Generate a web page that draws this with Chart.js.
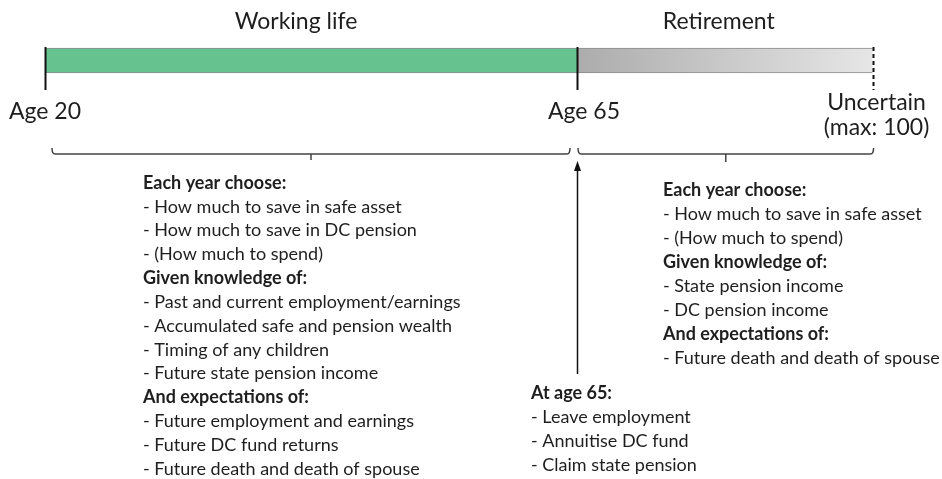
<!DOCTYPE html>
<html>
<head>
<meta charset="utf-8">
<script src="https://cdn.jsdelivr.net/npm/chart.js@4"></script>
<style>
  html, body { margin: 0; padding: 0; background: #fff; }
  #wrap { width: 942px; height: 479px; }
</style>
</head>
<body>
<div id="wrap"><canvas id="out" width="942" height="479"></canvas></div>
<script>
// timeline ages (90 is where the open-ended retirement span is drawn)
const ages = [20, 65, 90];
const ageLabels = [["Age 20"], ["Age 65"], ["Uncertain", "(max: 100)"]];

const phaseNames = ["Working life", "Retirement"];
const phaseFrom = [20, 65];
const phaseTo = [65, 90];

const workingText = [
  "Each year choose:",
  "- How much to save in safe asset",
  "- How much to save in DC pension",
  "- (How much to spend)",
  "Given knowledge of:",
  "- Past and current employment/earnings",
  "- Accumulated safe and pension wealth",
  "- Timing of any children",
  "- Future state pension income",
  "And expectations of:",
  "- Future employment and earnings",
  "- Future DC fund returns",
  "- Future death and death of spouse"
];
const retiredText = [
  "Each year choose:",
  "- How much to save in safe asset",
  "- (How much to spend)",
  "Given knowledge of:",
  "- State pension income",
  "- DC pension income",
  "And expectations of:",
  "- Future death and death of spouse"
];
const at65Text = [
  "At age 65:",
  "- Leave employment",
  "- Annuitise DC fund",
  "- Claim state pension"
];

const FONT = "Lato, 'Open Sans', sans-serif";
const INK = "#1e1e1e";

// pixels per year so that age 20 -> 45px and age 65 -> 577px
const pxYear = (577 - 45) / 45;
const xMin = 20 - 45 / pxYear;
const xMax = xMin + 942 / pxYear;

function barFill(context) {
  if (context.dataIndex === 0) return "#66c28e";
  const chart = context.chart;
  const xs = chart.scales.x;
  if (!xs) return "#bbb";
  const g = chart.ctx.createLinearGradient(xs.getPixelForValue(phaseFrom[1]), 0, xs.getPixelForValue(phaseTo[1]), 0);
  g.addColorStop(0, "#acacac");
  g.addColorStop(1, "#e6e6e6");
  return g;
}

function drawBlock(ctx, lines, left, top, lineH, size) {
  ctx.textAlign = "left";
  ctx.textBaseline = "middle";
  ctx.fillStyle = INK;
  lines.forEach((t, i) => {
    const head = t.endsWith(":");
    ctx.font = (head ? "bold " : "") + size + "px " + FONT;
    ctx.fillText(t, left, top + i * lineH);
  });
}

function bracket(ctx, x1, x2, y, up, down) {
  const mid = (x1 + x2) / 2;
  ctx.beginPath();
  ctx.moveTo(x1, y - up);
  ctx.quadraticCurveTo(x1, y, x1 + 3, y);
  ctx.lineTo(x2 - 3, y);
  ctx.quadraticCurveTo(x2, y, x2, y - up);
  ctx.stroke();
  ctx.beginPath();
  ctx.moveTo(mid, y);
  ctx.lineTo(mid, y + down);
  ctx.stroke();
}

const diagram = {
  id: "diagram",
  afterDatasetsDraw(chart) {
    const ctx = chart.ctx;
    const xs = chart.scales.x, ys = chart.scales.y;
    const px = v => xs.getPixelForValue(v);
    const py = v => ys.getPixelForValue(v);
    ctx.save();

    // phase titles
    ctx.fillStyle = INK;
    ctx.textAlign = "center";
    ctx.textBaseline = "middle";
    ctx.font = "23px " + FONT;
    phaseNames.forEach((n, i) => {
      ctx.fillText(n, px((phaseFrom[i] + phaseTo[i]) / 2) + (i ? -6 : -15), py(22));
    });

    // age markers
    ctx.strokeStyle = "#111";
    ctx.lineWidth = 2;
    ages.forEach((a, i) => {
      const x = Math.round(px(a)) + 0.5;
      ctx.setLineDash(i === ages.length - 1 ? [4, 3] : []);
      ctx.beginPath();
      ctx.moveTo(x, py(47));
      ctx.lineTo(x, py(90));
      ctx.stroke();
    });
    ctx.setLineDash([]);

    ctx.font = "23px " + FONT;
    ageLabels.forEach((lab, i) => {
      const x = px(ages[i]) + (i === 1 ? 7 : (i === 2 ? 4 : 0));
      const y0 = lab.length > 1 ? 103 : 112;
      lab.forEach((t, j) => ctx.fillText(t, x, py(y0 + j * 25)));
    });

    // brackets
    ctx.strokeStyle = "#444";
    ctx.lineWidth = 1.5;
    bracket(ctx, px(ages[0]) + 7, px(ages[1]) - 7, py(154), 6, 6);
    bracket(ctx, px(ages[1]) + 1, px(ages[2]) + 1, py(154), 6, 8);

    // arrow up to age 65
    const ax = Math.round(px(ages[1])) + 0.5;
    ctx.strokeStyle = "#111";
    ctx.lineWidth = 1.5;
    ctx.beginPath();
    ctx.moveTo(ax, py(374));
    ctx.lineTo(ax, py(168));
    ctx.stroke();
    ctx.fillStyle = "#111";
    ctx.beginPath();
    ctx.moveTo(ax, py(161));
    ctx.lineTo(ax - 3.5, py(171));
    ctx.lineTo(ax + 3.5, py(171));
    ctx.closePath();
    ctx.fill();

    // text blocks
    drawBlock(ctx, workingText, 143, py(183), 23.83, 18);
    drawBlock(ctx, retiredText, 663, py(190), 24, 18);
    drawBlock(ctx, at65Text, 531, py(393), 24, 18);

    ctx.restore();
  }
};

new Chart(document.getElementById("out").getContext("2d"), {
  type: "bar",
  data: {
    datasets: [{
      data: phaseFrom.map((f, i) => ({ x: [f, phaseTo[i]], y: 60.5 })),
      backgroundColor: barFill,
      borderColor: "#8c8c8c",
      borderWidth: { top: 1, bottom: 1, left: 0, right: 0 },
      borderSkipped: false,
      barThickness: 25
    }]
  },
  options: {
    indexAxis: "y",
    responsive: false,
    animation: false,
    layout: { padding: 0 },
    plugins: { legend: { display: false }, tooltip: { enabled: false } },
    scales: {
      x: { type: "linear", min: xMin, max: xMax, display: false, offset: false },
      y: { type: "linear", min: 0, max: 479, reverse: true, display: false, offset: false, grid: { offset: false } }
    }
  },
  plugins: [diagram]
});
</script>
</body>
</html>
